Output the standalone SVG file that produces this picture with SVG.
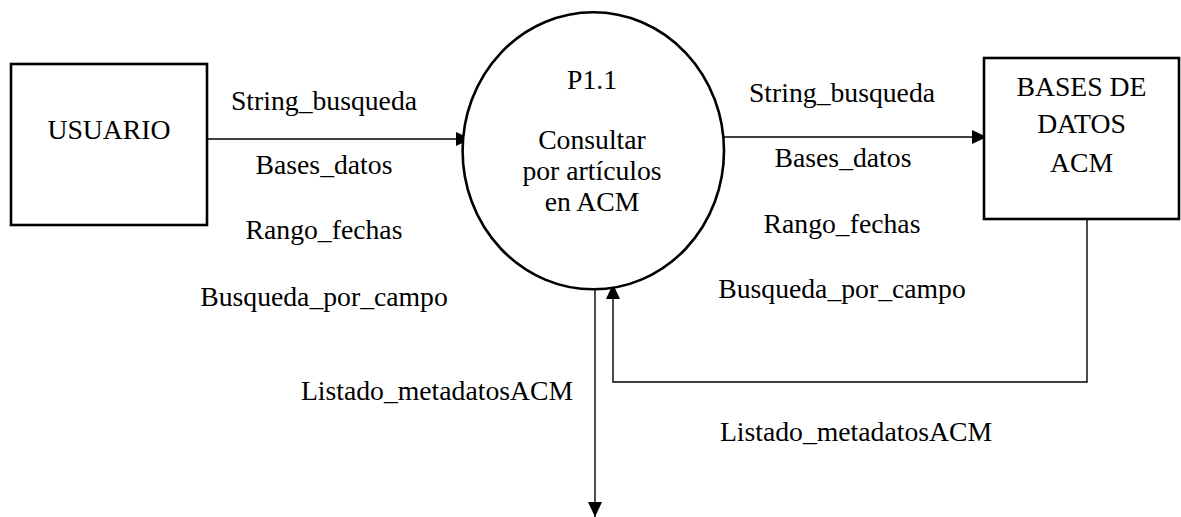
<svg xmlns="http://www.w3.org/2000/svg" width="1181" height="517" viewBox="0 0 1181 517">
<style>
text{font-family:"Liberation Serif","Times New Roman",Times,serif;font-size:27.7px;fill:#000;text-anchor:middle}
.box{fill:#fff;stroke:#000;stroke-width:2.6}
.conn{fill:none;stroke:#000;stroke-width:1.4}
</style>
<defs>
<marker id="arr" markerUnits="userSpaceOnUse" markerWidth="16" markerHeight="14" refX="15" refY="7" orient="auto">
<path d="M0,0 L15,7 L0,14 Z" fill="#000"/>
</marker>
</defs>
<rect width="1181" height="517" fill="#fff"/>
<g id="connectors">
<line class="conn" x1="207" y1="139" x2="471" y2="139" marker-end="url(#arr)"/>
<line class="conn" x1="724" y1="137" x2="987" y2="137" marker-end="url(#arr)"/>
<polyline class="conn" points="1087,219 1087,382 613,382 613,284" marker-end="url(#arr)"/>
<line class="conn" x1="595" y1="289" x2="595" y2="517" marker-end="url(#arr)"/>
</g>
<g id="labels" font-family="Liberation Serif, serif">
<text x="324" y="110">String_busqueda</text>
<text x="324" y="174">Bases_datos</text>
<text x="324" y="239">Rango_fechas</text>
<text x="324" y="306">Busqueda_por_campo</text>
<text x="842" y="102">String_busqueda</text>
<text x="843" y="167">Bases_datos</text>
<text x="842" y="233">Rango_fechas</text>
<text x="842" y="298">Busqueda_por_campo</text>
<text x="437" y="400">Listado_metadatosACM</text>
<text x="856" y="441">Listado_metadatosACM</text>
</g>
<g id="usuario" font-family="Liberation Serif, serif">
<rect class="box" x="11" y="64" width="196" height="161"/>
<text x="109" y="139">USUARIO</text>
</g>
<g id="p1_1" font-family="Liberation Serif, serif">
<ellipse class="box" cx="593.3" cy="150.8" rx="130.7" ry="138.5"/>
<text x="592" y="89">P1.1</text>
<text x="592" y="149">Consultar</text>
<text x="592" y="179.5">por artículos</text>
<text x="592" y="210.5">en ACM</text>
</g>
<g id="bases" font-family="Liberation Serif, serif">
<rect class="box" x="984" y="58" width="195" height="161" stroke-width="3"/>
<text x="1081.5" y="96">BASES DE</text>
<text x="1081.5" y="133">DATOS</text>
<text x="1081.5" y="172">ACM</text>
</g>
</svg>
